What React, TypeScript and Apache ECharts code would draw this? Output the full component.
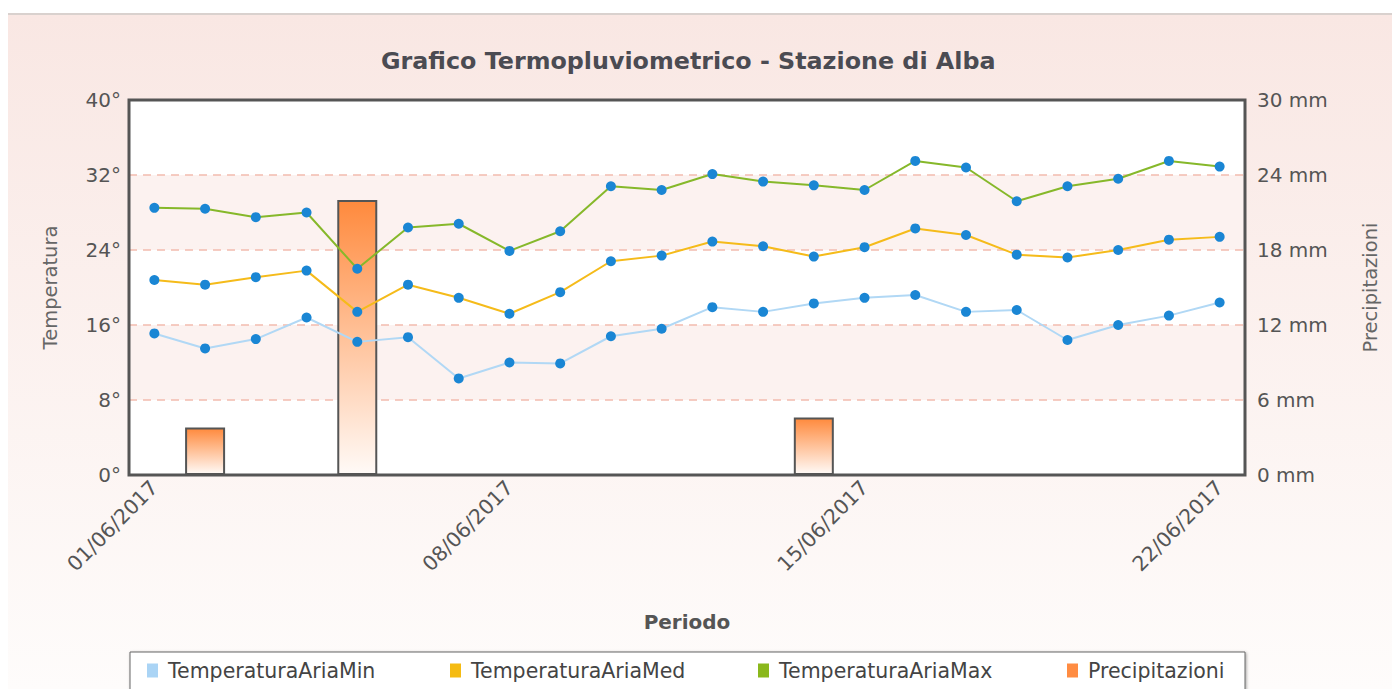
import React, { useEffect, useRef } from "react";
import * as echarts from "echarts";

const dates = [
  "01/06/2017", "02/06/2017", "03/06/2017", "04/06/2017", "05/06/2017", "06/06/2017",
  "07/06/2017", "08/06/2017", "09/06/2017", "10/06/2017", "11/06/2017", "12/06/2017",
  "13/06/2017", "14/06/2017", "15/06/2017", "16/06/2017", "17/06/2017", "18/06/2017",
  "19/06/2017", "20/06/2017", "21/06/2017", "22/06/2017",
];
const tempMin = [15.1, 13.5, 14.5, 16.8, 14.2, 14.7, 10.3, 12.0, 11.9, 14.8, 15.6, 17.9, 17.4, 18.3, 18.9, 19.2, 17.4, 17.6, 14.4, 16.0, 17.0, 18.4];
const tempMed = [20.8, 20.3, 21.1, 21.8, 17.4, 20.3, 18.9, 17.2, 19.5, 22.8, 23.4, 24.9, 24.4, 23.3, 24.3, 26.3, 25.6, 23.5, 23.2, 24.0, 25.1, 25.4];
const tempMax = [28.5, 28.4, 27.5, 28.0, 22.0, 26.4, 26.8, 23.9, 26.0, 30.8, 30.4, 32.1, 31.3, 30.9, 30.4, 33.5, 32.8, 29.2, 30.8, 31.6, 33.5, 32.9];
const precip = [0, 3.8, 0, 0, 22.0, 0, 0, 0, 0, 0, 0, 0, 0, 4.6, 0, 0, 0, 0, 0, 0, 0, 0];

const legendNames = ["TemperaturaAriaMin", "TemperaturaAriaMed", "TemperaturaAriaMax", "Precipitazioni"];
const legendColors = ["#aad4f5", "#f5bb12", "#8ab81c", "#ff8c42"];
const legendLefts = [139, 442, 750, 1059];

const FONT = "'DejaVu Sans', Verdana, sans-serif";

export default function App() {
  const ref = useRef<HTMLDivElement>(null);
  useEffect(() => {
    if (!ref.current) return;
    const chart = echarts.init(ref.current, null, { renderer: "svg" });
    const marker = "#1a86d4";
    chart.setOption({
      animation: false,
      backgroundColor: new echarts.graphic.LinearGradient(0, 0, 0, 1, [
        { offset: 0, color: "#f9e7e3" },
        { offset: 1, color: "#fefcfb" },
      ]),
      textStyle: { fontFamily: FONT },
      title: {
        text: "Grafico Termopluviometrico - Stazione di Alba",
        left: 368,
        top: 29,
        textStyle: { fontFamily: FONT, fontSize: 23.8, fontWeight: "bold", color: "#4b4b52" },
      },
      graphic: [
        {
          type: "rect",
          z: 1,
          shape: { x: 122, y: 637, width: 1115, height: 60 },
          style: {
            fill: "#fff",
            stroke: "#666",
            lineWidth: 1,
            shadowColor: "rgba(0,0,0,0.35)",
            shadowBlur: 3,
            shadowOffsetX: 1,
            shadowOffsetY: 1,
          },
        },
      ],
      legend: legendNames.map((n, i) => ({
        left: legendLefts[i],
        top: 645,
        padding: 0,
        itemWidth: 11,
        itemHeight: 14,
        icon: "rect",
        z: 5,
        textStyle: { fontFamily: FONT, fontSize: 20.5, color: "#444", padding: [0, 0, 0, 5] },
        data: [{ name: n, itemStyle: { color: legendColors[i], borderWidth: 0 } }],
      })),
      grid: {
        left: 121,
        right: 155,
        top: 85,
        bottom: 214,
        show: true,
        z: 4,
        backgroundColor: "transparent",
        borderColor: "#555",
        borderWidth: 3,
      },
      xAxis: {
        type: "category",
        data: dates,
        boundaryGap: true,
        axisLine: { show: false },
        axisTick: { show: false },
        splitLine: { show: false },
        axisLabel: {
          interval: 6,
          rotate: 45,
          fontFamily: FONT,
          fontSize: 20.5,
          color: "#555",
          margin: 9,
        },
        name: "Periodo",
        nameLocation: "middle",
        nameGap: 137,
        nameTextStyle: { fontFamily: FONT, fontSize: 20, fontWeight: "bold", color: "#555" },
      },
      yAxis: [
        {
          type: "value",
          min: 0,
          max: 40,
          interval: 8,
          position: "left",
          axisLine: { show: false },
          axisTick: { show: false },
          axisLabel: { formatter: "{value}°", fontFamily: FONT, fontSize: 20, color: "#555", margin: 8 },
          splitLine: { show: true, lineStyle: { color: "#f2bcae", type: [8, 6], width: 1.5 } },
          splitArea: { show: true, areaStyle: { color: ["#ffffff", "#fcf2f0"] } },
          name: "Temperatura",
          nameLocation: "middle",
          nameGap: 69,
          nameRotate: 90,
          nameTextStyle: { fontFamily: FONT, fontSize: 19.5, color: "#666" },
        },
        {
          type: "value",
          min: 0,
          max: 30,
          interval: 6,
          position: "right",
          axisLine: { show: false },
          axisTick: { show: false },
          axisLabel: { formatter: "{value} mm", fontFamily: FONT, fontSize: 20, color: "#555", margin: 12 },
          splitLine: { show: false },
          name: "Precipitazioni",
          nameLocation: "middle",
          nameGap: 115,
          nameRotate: 90,
          nameTextStyle: { fontFamily: FONT, fontSize: 19.5, color: "#666" },
        },
      ],
      series: [
        {
          name: "Precipitazioni",
          type: "bar",
          yAxisIndex: 1,
          data: precip.map((v) => (v === 0 ? "-" : v)),
          barWidth: 40,
          z: 2,
          itemStyle: {
            color: new echarts.graphic.LinearGradient(0, 0, 0, 1, [
              { offset: 0, color: "#ff8a3d" },
              { offset: 1, color: "#fffaf7" },
            ]),
            borderColor: "#555",
            borderWidth: 2,
          },
        },
        {
          name: "TemperaturaAriaMin",
          type: "line",
          data: tempMin,
          z: 3,
          symbol: "circle",
          symbolSize: 10,
          itemStyle: { color: marker },
          lineStyle: { color: "#b1d8f5", width: 2 },
        },
        {
          name: "TemperaturaAriaMed",
          type: "line",
          data: tempMed,
          z: 3,
          symbol: "circle",
          symbolSize: 10,
          itemStyle: { color: marker },
          lineStyle: { color: "#f5bb1a", width: 2 },
        },
        {
          name: "TemperaturaAriaMax",
          type: "line",
          data: tempMax,
          z: 3,
          symbol: "circle",
          symbolSize: 10,
          itemStyle: { color: marker },
          lineStyle: { color: "#86b82a", width: 2 },
        },
      ],
    });
    return () => chart.dispose();
  }, []);
  return (
    <div style={{ marginTop: 5, borderTop: "2px solid #d9d1ce" }}>
      <div ref={ref} style={{ width: 1392, height: 674 }} />
    </div>
  );
}
